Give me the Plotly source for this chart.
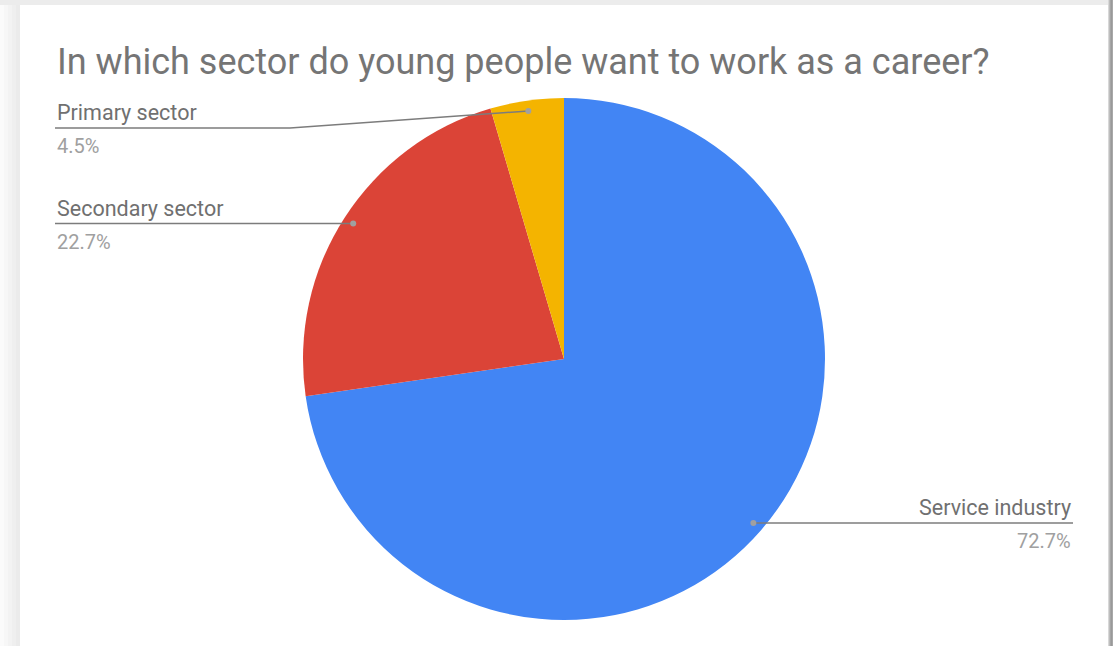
import math
import plotly.graph_objects as go

W, H = 1113, 646

# Survey answers (number of respondents per sector)
sectors = ["Service industry", "Secondary sector", "Primary sector"]
counts = [16, 5, 1]
colors = ["#4285F4", "#DB4437", "#F4B400"]
title = "In which sector do young people want to work as a career?"

# Pie placement in pixels
CX, CY, R = 564, 359, 261


def px(x):
    return x / W


def py(y):
    return 1 - y / H


fig = go.Figure()
fig.add_trace(go.Pie(
    labels=sectors,
    values=counts,
    sort=False,
    direction="clockwise",
    rotation=0,
    marker=dict(colors=colors, line=dict(width=0)),
    textinfo="none",
    hoverinfo="label+percent",
    showlegend=False,
    domain=dict(x=[px(CX - R), px(CX + R)], y=[py(CY + R), py(CY - R)]),
))

shapes = []
annotations = []

# Card background with soft shadow on the edges
shapes.append(dict(type="rect", xref="paper", yref="paper", x0=0, x1=1, y0=0, y1=1,
                   fillcolor="#ffffff", line=dict(width=0), layer="below"))
for i, c in enumerate(["#fbfbfb", "#f7f7f7", "#f3f3f3", "#efefef", "#ebebeb"]):
    shapes.append(dict(type="rect", xref="paper", yref="paper",
                       x0=px(i * 4), x1=px(i * 4 + 4), y0=0, y1=1,
                       fillcolor=c, line=dict(width=0), layer="below"))
shapes.append(dict(type="rect", xref="paper", yref="paper", x0=0, x1=1,
                   y0=py(5), y1=1, fillcolor="#ececec", line=dict(width=0), layer="below"))
for i, c in enumerate(["#d8d8d8", "#bdbdbd", "#a5a5a5", "#999999", "#a8a8a8"]):
    shapes.append(dict(type="rect", xref="paper", yref="paper",
                       x0=px(1108 + i), x1=px(1109 + i), y0=0, y1=1,
                       fillcolor=c, line=dict(width=0), layer="below"))

# Label anchoring: side, line y position, text edge x
label_side = {"Service industry": "right", "Secondary sector": "left", "Primary sector": "left"}
label_line_y = {"Service industry": None, "Secondary sector": None, "Primary sector": 128}
LEFT_X, RIGHT_X, ELBOW_X = 55, 1073, 290

total = sum(counts)
start = 0.0
for name, v in zip(sectors, counts):
    frac = v / total
    mid = (start + frac / 2) * 2 * math.pi
    start += frac
    dx = 0.96 * R * math.sin(mid)
    dy = -0.96 * R * math.cos(mid)
    dot_x, dot_y = CX + dx, CY + dy
    ly = label_line_y[name] if label_line_y[name] is not None else dot_y
    side = label_side[name]
    pct = f"{100 * frac:.1f}%"

    if side == "left":
        if abs(ly - dot_y) > 2:
            pts = [(LEFT_X, ly), (ELBOW_X, ly), (dot_x, dot_y)]
        else:
            pts = [(LEFT_X, ly), (dot_x, ly)]
        text_x, anchor = LEFT_X, "left"
    else:
        pts = [(dot_x, ly), (RIGHT_X, ly)]
        text_x, anchor = RIGHT_X, "right"

    path = "M " + " L ".join(f"{px(x):.5f},{py(y):.5f}" for x, y in pts)
    shapes.append(dict(type="path", xref="paper", yref="paper", path=path,
                       line=dict(color="#7c7c7c", width=1.5)))
    shapes.append(dict(type="circle", xref="paper", yref="paper",
                       x0=px(dot_x - 3), x1=px(dot_x + 3), y0=py(dot_y + 3), y1=py(dot_y - 3),
                       fillcolor="#a0a0a0", line=dict(width=0)))

    annotations.append(dict(xref="paper", yref="paper", x=px(text_x), y=py(ly - 1),
                            xanchor=anchor, yanchor="bottom", showarrow=False, text=name,
                            font=dict(family="Roboto", size=21.5, color="#707070")))
    annotations.append(dict(xref="paper", yref="paper", x=px(text_x), y=py(ly + 4),
                            xanchor=anchor, yanchor="top", showarrow=False, text=pct,
                            font=dict(family="Roboto", size=20, color="#a0a0a0")))

annotations.append(dict(xref="paper", yref="paper", x=px(55), y=py(62),
                        xanchor="left", yanchor="middle", showarrow=False, text=title,
                        font=dict(family="Roboto", size=36, color="#757575")))

fig.update_layout(
    width=W, height=H,
    margin=dict(l=0, r=0, t=0, b=0),
    paper_bgcolor="#ffffff",
    plot_bgcolor="#ffffff",
    shapes=shapes,
    annotations=annotations,
)

fig.write_html("out.html", config={"displayModeBar": False})
